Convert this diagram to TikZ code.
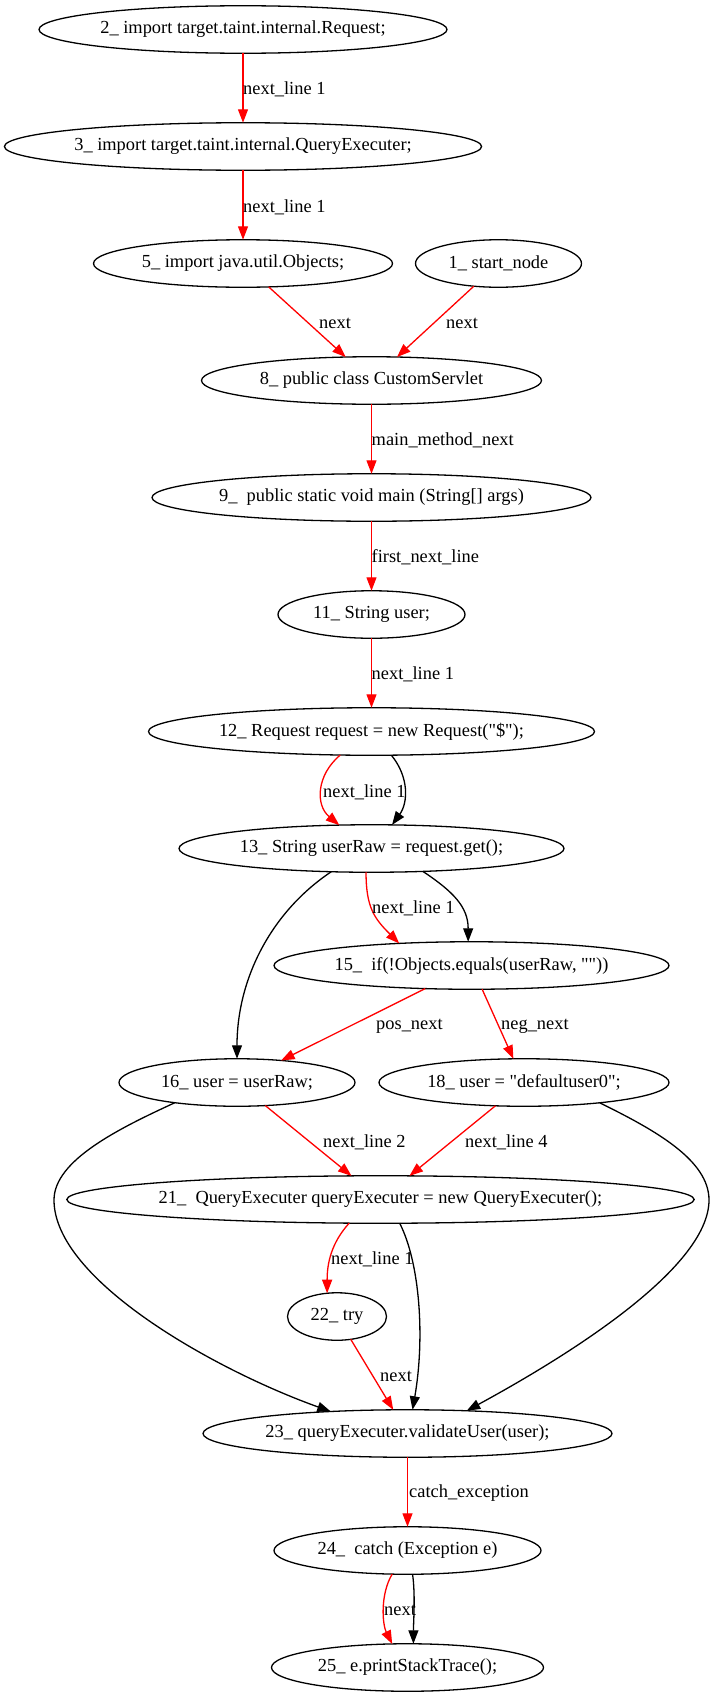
\documentclass[tikz,border=0pt]{standalone}
\usepackage{fontspec}
\setmainfont{Liberation Serif}
\usetikzlibrary{arrows.meta,positioning,shapes.geometric}

\tikzset{
  stmt/.style={draw, ellipse, line width=1.3pt, minimum height=47.5pt, inner sep=0pt, outer sep=0pt, font=\fontsize{18.4}{22}\selectfont},
  lbl/.style={anchor=west, inner sep=0pt, font=\fontsize{18.4}{22}\selectfont},
  redge/.style={->, red, line width=1.3pt},
  bedge/.style={->, black, line width=1.3pt},
  >={Triangle[length=13.5pt,width=10pt]}
}

\begin{document}
\begin{tikzpicture}[x=1pt, y=-1pt]
		\useasboundingbox (0,0) rectangle (711,1697);
		\node[stmt, minimum width=408pt] (n2) at (243,29.5) {2\_ import target.taint.internal.Request;};
		\node[stmt, minimum width=477pt, below=69.5pt of n2] (n3) {3\_ import target.taint.internal.QueryExecuter;};
		\node[stmt, minimum width=299pt, below=69.5pt of n3] (n5) {5\_ import java.util.Objects;};
		\node[stmt, minimum width=166pt, right=23pt of n5] (n1) {1\_ start\_node};
		\node[stmt, minimum width=340pt, below=69.5pt of n5, xshift=128.5pt] (n8) {8\_ public class CustomServlet};
		\node[stmt, minimum width=439pt, below=69.5pt of n8] (n9) {9\_~ public static void main (String[] args)};
		\node[stmt, minimum width=187pt, below=69.5pt of n9] (n11) {11\_ String user;};
		\node[stmt, minimum width=446pt, below=69.5pt of n11] (n12) {12\_ Request request = new Request(\textquotedbl\$\textquotedbl);};
		\node[stmt, minimum width=385pt, below=69.5pt of n12] (n13) {13\_ String userRaw = request.get();};
		\node[stmt, minimum width=395pt, below=69.5pt of n13, xshift=100pt] (n15) {15\_~ if(!Objects.equals(userRaw, \textquotedbl\textquotedbl))};
		\node[stmt, minimum width=236pt, below=69.5pt of n15, xshift=-234.5pt] (n16) {16\_ user = userRaw;};
		\node[stmt, minimum width=290pt, right=24pt of n16] (n18) {18\_ user = \textquotedbl defaultuser0\textquotedbl;};
		\node[stmt, minimum width=615pt, below=69.5pt of n16, xshift=143.5pt] (n21) {21\_~ QueryExecuter queryExecuter = new QueryExecuter();};
		\node[stmt, minimum width=99pt, below=69.5pt of n21, xshift=-43.5pt] (n22) {22\_ try};
		\node[stmt, minimum width=409pt, below=69.5pt of n22, xshift=70.5pt] (n23) {23\_ queryExecuter.validateUser(user);};
		\node[stmt, minimum width=267pt, below=69.5pt of n23] (n24) {24\_~ catch (Exception e)};
		\node[stmt, minimum width=272pt, below=69.5pt of n24] (n25) {25\_ e.printStackTrace();};
		% straight edges
		\draw[redge] (n2) -- (n3);
		\draw[redge] (n3) -- (n5);
		\draw[redge] (n5) -- (n8);
		\draw[redge] (n1) -- (n8);
		\draw[redge] (n8) -- (n9);
		\draw[redge] (n9) -- (n11);
		\draw[redge] (n11) -- (n12);
		\draw[redge] (n15) -- (n16);
		\draw[redge] (n15) -- (n18);
		\draw[redge] (n16) -- (n21);
		\draw[redge] (n18) -- (n21);
		\draw[redge] (n22) -- (n23);
		\draw[redge] (n23) -- (n24);
		% curved edges
		\draw[redge] (n12.217) .. controls +(-24,20) and +(-24,-20) .. (n13.144);
		\draw[bedge] (n12.310) .. controls +(18,22) and +(16,-22) .. (n13.49);
		\draw[bedge] (n13.210) .. controls +(-60,40) and +(0,-80) .. (n16.north);
		\draw[redge] (n13.257) .. controls +(0,35) and +(-25,-25) .. (n15.163);
		\draw[bedge] (n13.336) .. controls +(30,20) and +(0,-35) .. (n15.98);
		\draw[bedge] (n16.198) .. controls (120,1128) and (54,1160) .. (54,1200) .. controls (54,1280) and (215,1370) .. (n23.164);
		\draw[bedge] (n18.345) .. controls (655,1130) and (709,1160) .. (709,1200) .. controls (709,1270) and (560,1360) .. (n23.21);
		\draw[redge] (n21.217) .. controls +(-18,20) and +(0,-30) .. (n22.113);
		\draw[bedge] (n21.309) .. controls (420,1263) and (425,1338) .. (n23.78);
		\draw[redge] (n24.237) .. controls +(-12,20) and +(-10,-20) .. (n25.123);
		\draw[bedge] (n24.282) .. controls +(3,20) and +(0,-20) .. (n25.76);
		% edge labels
		\node[lbl] (l2) at (243,89) {next\_line 1};
		\node[lbl] (l3) at (243,207) {next\_line 1};
		\node[lbl] (l5) at (319,323) {next};
		\node[lbl] (l1) at (446,323) {next};
		\node[lbl] (l8) at (371.5,440) {main\_method\_next};
		\node[lbl] (l9) at (371.5,557) {first\_next\_line};
		\node[lbl] (l11) at (371.5,674) {next\_line 1};
		\node[lbl] (l12) at (323,792) {next\_line 1};
		\node[lbl] (l13) at (372,908) {next\_line 1};
		\node[lbl] (l15a) at (376,1026) {pos\_next};
		\node[lbl] (l15b) at (501,1026) {neg\_next};
		\node[lbl] (l16) at (323,1142) {next\_line 2};
		\node[lbl] (l18) at (465,1142) {next\_line 4};
		\node[lbl] (l21) at (331,1259) {next\_line 1};
		\node[lbl] (l22) at (380,1376) {next};
		\node[lbl] (l23) at (409,1493) {catch\_exception};
		\node[lbl] (l24) at (384,1610) {next};
	\end{tikzpicture}
\end{document}
